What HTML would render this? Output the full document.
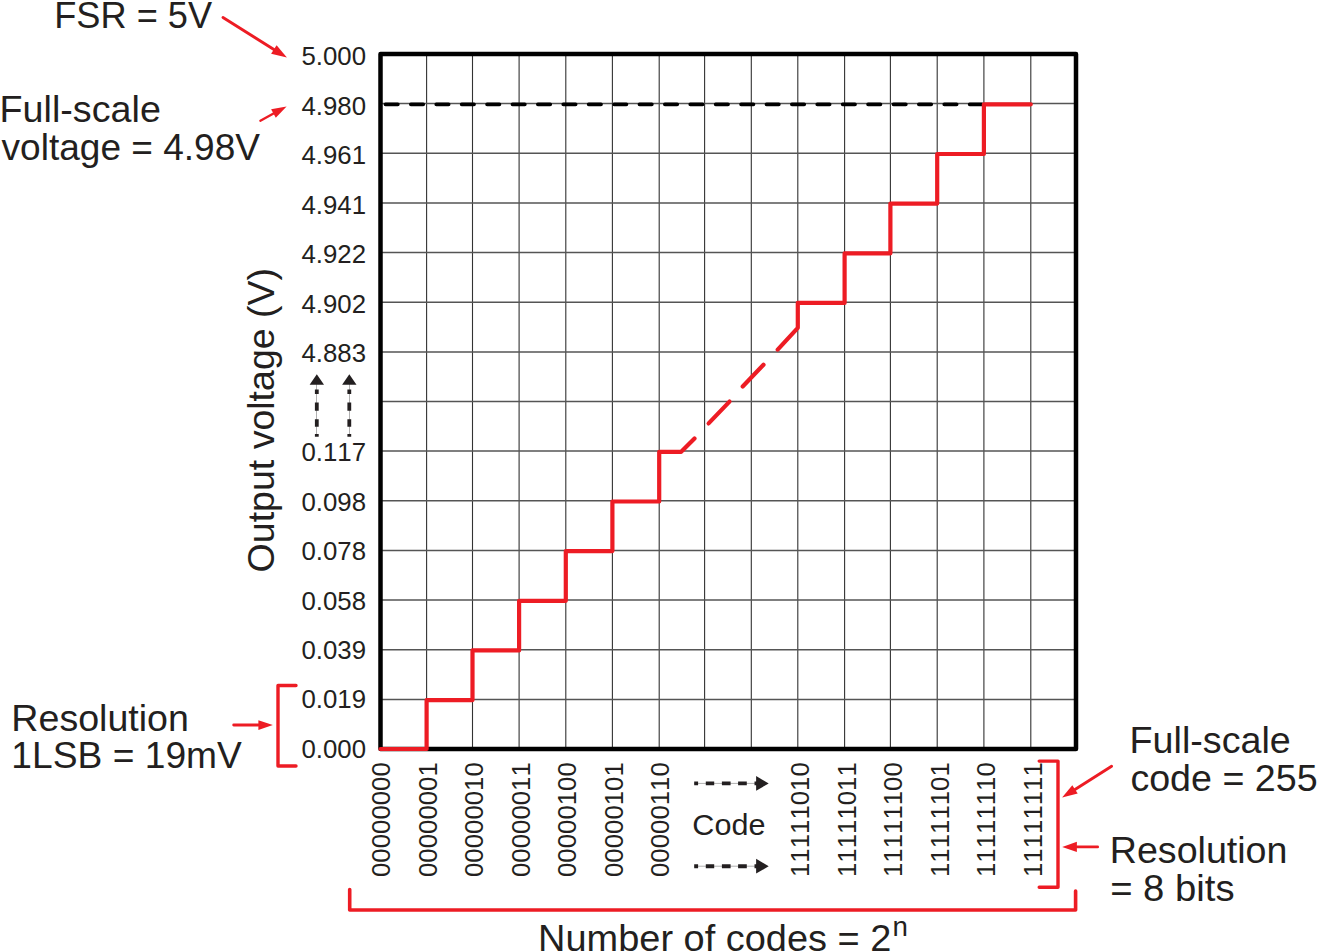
<!DOCTYPE html><html><head><meta charset="utf-8"><style>html,body{margin:0;padding:0;background:#fff;width:1318px;height:951px;overflow:hidden}svg{display:block}text{font-family:"Liberation Sans",Arial,Helvetica,sans-serif;fill:#231f20;font-kerning:none}</style></head><body>
<svg width="1318" height="951" viewBox="0 0 1318 951">
<path d="M426.6 54.0V749.0M472.5 54.0V749.0M519.1 54.0V749.0M565.8 54.0V749.0M612.4 54.0V749.0M659.2 54.0V749.0M704.6 54.0V749.0M751.3 54.0V749.0M797.8 54.0V749.0M844.6 54.0V749.0M890.4 54.0V749.0M937.2 54.0V749.0M983.9 54.0V749.0M1030.8 54.0V749.0" stroke="#333" stroke-width="1.1" fill="none"/>
<path d="M380.5 103.6H1076.0M380.5 153.3H1076.0M380.5 202.9H1076.0M380.5 252.6H1076.0M380.5 302.2H1076.0M380.5 351.9H1076.0M380.5 401.5H1076.0M380.5 451.1H1076.0M380.5 500.8H1076.0M380.5 550.4H1076.0M380.5 600.1H1076.0M380.5 649.7H1076.0M380.5 699.4H1076.0" stroke="#555" stroke-width="1.5" fill="none"/>
<rect x="380.5" y="54.0" width="695.5" height="695.0" fill="none" stroke="#000" stroke-width="4.5" stroke-linejoin="round"/>
<line x1="385.5" y1="104.3" x2="983.9" y2="104.3" stroke="#000" stroke-width="3.8" stroke-dasharray="12.3 13.1" stroke-linecap="round"/>
<path d="M380.5 749.0H426.6 V700.1H472.5 V650.4H519.1 V600.8H565.8 V551.1H612.4 V501.5H659.2 V451.8H681.2 L694.5 438.5" stroke="#ed1c24" stroke-width="4.2" fill="none" stroke-linejoin="round" stroke-linecap="round"/>
<line x1="708.6" y1="423.4" x2="729.5" y2="401.6" stroke="#ed1c24" stroke-width="4.2" stroke-linecap="round"/>
<line x1="742.7" y1="386.5" x2="763.5" y2="364.7" stroke="#ed1c24" stroke-width="4.2" stroke-linecap="round"/>
<path d="M777.7 349.6 L797.8 327.8 V302.9H844.6 V253.3H890.4 V203.6H937.2 V154.0H983.9 V104.3H1030.8" stroke="#ed1c24" stroke-width="4.2" fill="none" stroke-linecap="round" stroke-linejoin="round"/>
<text x="366" y="65.3" font-size="25.8" text-anchor="end">5.000</text>
<text x="366" y="114.8" font-size="25.8" text-anchor="end">4.980</text>
<text x="366" y="164.2" font-size="25.8" text-anchor="end">4.961</text>
<text x="366" y="213.7" font-size="25.8" text-anchor="end">4.941</text>
<text x="366" y="263.2" font-size="25.8" text-anchor="end">4.922</text>
<text x="366" y="312.6" font-size="25.8" text-anchor="end">4.902</text>
<text x="366" y="362.1" font-size="25.8" text-anchor="end">4.883</text>
<text x="366" y="461.1" font-size="25.8" text-anchor="end">0.117</text>
<text x="366" y="510.5" font-size="25.8" text-anchor="end">0.098</text>
<text x="366" y="560.0" font-size="25.8" text-anchor="end">0.078</text>
<text x="366" y="609.5" font-size="25.8" text-anchor="end">0.058</text>
<text x="366" y="658.9" font-size="25.8" text-anchor="end">0.039</text>
<text x="366" y="708.4" font-size="25.8" text-anchor="end">0.019</text>
<text x="366" y="757.9" font-size="25.8" text-anchor="end">0.000</text>
<text transform="translate(390.4 877) rotate(-90)" font-size="25.8">00000000</text>
<text transform="translate(436.8 877) rotate(-90)" font-size="25.8">00000001</text>
<text transform="translate(483.3 877) rotate(-90)" font-size="25.8">00000010</text>
<text transform="translate(529.8 877) rotate(-90)" font-size="25.8">00000011</text>
<text transform="translate(576.2 877) rotate(-90)" font-size="25.8">00000100</text>
<text transform="translate(622.6 877) rotate(-90)" font-size="25.8">00000101</text>
<text transform="translate(669.1 877) rotate(-90)" font-size="25.8">00000110</text>
<text transform="translate(809.4 877) rotate(-90)" font-size="25.8">11111010</text>
<text transform="translate(855.9 877) rotate(-90)" font-size="25.8">11111011</text>
<text transform="translate(902.3 877) rotate(-90)" font-size="25.8">11111100</text>
<text transform="translate(948.8 877) rotate(-90)" font-size="25.8">11111101</text>
<text transform="translate(995.2 877) rotate(-90)" font-size="25.8">11111110</text>
<text transform="translate(1041.7 877) rotate(-90)" font-size="25.8">11111111</text>
<line x1="694" y1="783.4" x2="757" y2="783.4" stroke="#b0b0b0" stroke-width="1"/>
<path d="M694.2 783.4H698.1 M705.8 783.4H714.2 M721.9 783.4H730.6 M738.1 783.4H746.8 M754.5 783.4H757" stroke="#231f20" stroke-width="3.9" fill="none"/>
<path d="M756.1 776.0 L768.7 783.4 L756.1 790.8 Z" fill="#231f20"/>
<line x1="694" y1="866.2" x2="757" y2="866.2" stroke="#b0b0b0" stroke-width="1"/>
<path d="M694.2 866.2H698.1 M705.8 866.2H714.2 M721.9 866.2H730.6 M738.1 866.2H746.8 M754.5 866.2H757" stroke="#231f20" stroke-width="3.9" fill="none"/>
<path d="M756.1 858.8 L768.7 866.2 L756.1 873.6 Z" fill="#231f20"/>
<line x1="316.5" y1="384" x2="316.5" y2="436" stroke="#b0b0b0" stroke-width="1"/>
<path d="M316.8 389.4V394.1 M316.8 402.6V410.7 M316.8 419.2V426.8 M316.8 433.9V436.7" stroke="#231f20" stroke-width="3.8" fill="none"/>
<path d="M316.8 374.2 L324.0 384.8 L309.6 384.8 Z" fill="#231f20"/>
<line x1="349.5" y1="384" x2="349.5" y2="436" stroke="#b0b0b0" stroke-width="1"/>
<path d="M349.3 389.4V394.1 M349.3 402.6V410.7 M349.3 419.2V426.8 M349.3 433.9V436.7" stroke="#231f20" stroke-width="3.8" fill="none"/>
<path d="M349.3 374.2 L356.5 384.8 L342.1 384.8 Z" fill="#231f20"/>
<text id="t_out" transform="translate(273.6 572.42) rotate(-90)" font-size="37" textLength="304.51" lengthAdjust="spacingAndGlyphs">Output voltage (V)</text>
<text id="t_fsr" x="54.26" y="27.5" font-size="37" textLength="157.86" lengthAdjust="spacingAndGlyphs">FSR = 5V</text>
<text id="t_fsl" x="-0.46" y="122.1" font-size="37" textLength="161.31" lengthAdjust="spacingAndGlyphs">Full-scale</text>
<text id="t_volt" x="1.60" y="159.7" font-size="37" textLength="258.37" lengthAdjust="spacingAndGlyphs">voltage = 4.98V</text>
<text id="t_resl" x="11.36" y="730.7" font-size="37" textLength="177.52" lengthAdjust="spacingAndGlyphs">Resolution</text>
<text id="t_lsb" x="11.39" y="767.8" font-size="37" textLength="230.46" lengthAdjust="spacingAndGlyphs">1LSB = 19mV</text>
<text id="t_fsr2" x="1129.54" y="753.3" font-size="37" textLength="161.31" lengthAdjust="spacingAndGlyphs">Full-scale</text>
<text id="t_code255" x="1130.38" y="790.8" font-size="37" textLength="187.28" lengthAdjust="spacingAndGlyphs">code = 255</text>
<text id="t_resr" x="1109.76" y="863.3" font-size="37" textLength="177.72" lengthAdjust="spacingAndGlyphs">Resolution</text>
<text id="t_bits" x="1110.15" y="900.5" font-size="37" textLength="124.41" lengthAdjust="spacingAndGlyphs">= 8 bits</text>
<text id="t_num" x="538.14" y="950.6" font-size="37" textLength="353.19" lengthAdjust="spacingAndGlyphs">Number of codes = 2</text>
<text id="t_n" x="892.57" y="936.4" font-size="27" textLength="15.41" lengthAdjust="spacingAndGlyphs">n</text>
<text id="t_code" x="692.38" y="834.5" font-size="30" textLength="73.07" lengthAdjust="spacingAndGlyphs">Code</text>
<line x1="223.0" y1="17.5" x2="273.9" y2="49.5" stroke="#ed1c24" stroke-width="2.9" stroke-linecap="round"/>
<path d="M286.9 57.4 L276.6 45.3 L271.1 53.7 Z" fill="#ed1c24"/>
<line x1="260.4" y1="120.7" x2="273.5" y2="113.5" stroke="#ed1c24" stroke-width="2.4" stroke-linecap="round"/>
<path d="M286.6 106.4 L271.1 109.2 L275.8 117.8 Z" fill="#ed1c24"/>
<line x1="233.7" y1="725.0" x2="258.4" y2="725.0" stroke="#ed1c24" stroke-width="2.9" stroke-linecap="round"/>
<path d="M272.8 725.0 L258.4 720.2 L258.4 729.9 Z" fill="#ed1c24"/>
<line x1="1111.6" y1="766.3" x2="1075.0" y2="789.5" stroke="#ed1c24" stroke-width="2.9" stroke-linecap="round"/>
<path d="M1062.1 797.6 L1072.3 785.3 L1077.7 793.6 Z" fill="#ed1c24"/>
<line x1="1097.6" y1="846.9" x2="1076.9" y2="846.9" stroke="#ed1c24" stroke-width="2.9" stroke-linecap="round"/>
<path d="M1062.2 846.9 L1076.9 841.8 L1076.9 852.0 Z" fill="#ed1c24"/>
<path d="M296 685.5H278V766H296" stroke="#ed1c24" stroke-width="3.4" fill="none" stroke-linecap="round" stroke-linejoin="round"/>
<path d="M1039.2 761.1H1058V887.3H1039.2" stroke="#ed1c24" stroke-width="3.4" fill="none" stroke-linecap="round" stroke-linejoin="round"/>
<path d="M349.7 889.6V910H1075.6V891.0" stroke="#ed1c24" stroke-width="3.6" fill="none" stroke-linecap="round" stroke-linejoin="round"/>
</svg></body></html>
